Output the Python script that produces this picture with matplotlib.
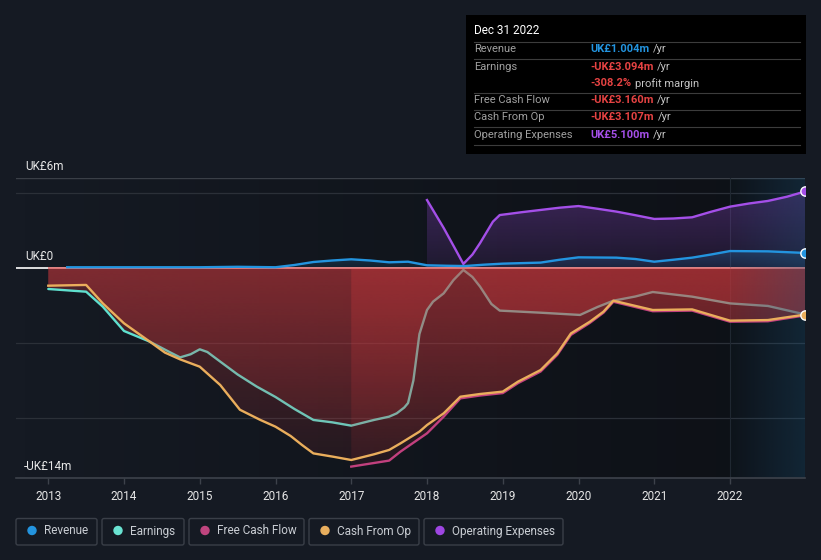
import numpy as np
import matplotlib
matplotlib.use("Agg")
import matplotlib.pyplot as plt
from matplotlib.colors import to_rgb
from matplotlib.patches import FancyBboxPatch, Rectangle, Circle

plt.rcParams['font.family'] = ['Roboto', 'DejaVu Sans']

# ---- data (UK£m, trailing twelve months) ----
rev_x = [2013.25, 2013.5, 2014, 2014.5, 2015, 2015.5, 2016, 2016.25, 2016.5, 2016.75, 2017,
         2017.25, 2017.5, 2017.75, 2018, 2018.25, 2018.5, 2018.75, 2019, 2019.5, 2019.75, 2020,
         2020.5, 2020.75, 2021, 2021.25, 2021.5, 2021.75, 2022, 2022.5, 2022.99]
rev_y = [0.05, 0.05, 0.05, 0.05, 0.05, 0.08, 0.05, 0.2, 0.4, 0.5, 0.58,
         0.5, 0.38, 0.42, 0.18, 0.15, 0.13, 0.22, 0.29, 0.36, 0.55, 0.71,
         0.69, 0.6, 0.42, 0.55, 0.69, 0.9, 1.13, 1.11, 1.004]

opex_x = [2018, 2018.22, 2018.38, 2018.48, 2018.6, 2018.7, 2018.87, 2018.96, 2019.1, 2019.25,
          2019.5, 2019.75, 2020, 2020.25, 2020.5, 2020.75, 2021, 2021.25, 2021.5, 2021.75,
          2022, 2022.25, 2022.5, 2022.75, 2022.99]
opex_y = [4.53, 2.67, 1.2, 0.27, 0.9, 1.66, 3.09, 3.53, 3.62, 3.72,
          3.87, 4.02, 4.13, 3.95, 3.76, 3.52, 3.27, 3.3, 3.38, 3.75,
          4.09, 4.3, 4.47, 4.75, 5.1]

earn_x = [2013, 2013.5, 2013.72, 2014, 2014.34, 2014.6, 2014.74, 2014.88, 2015, 2015.1, 2015.27,
          2015.5, 2015.75, 2016, 2016.25, 2016.5, 2016.75, 2017, 2017.3, 2017.5, 2017.6,
          2017.7, 2017.75, 2017.82, 2017.9, 2018, 2018.08, 2018.22, 2018.35, 2018.48, 2018.6,
          2018.7, 2018.85, 2018.96, 2019.5, 2020.02, 2020.25, 2020.46, 2020.75, 2020.98,
          2021.5, 2022, 2022.5, 2022.99]
earn_y = [-1.4, -1.58, -2.58, -4.2, -4.91, -5.6, -5.96, -5.75, -5.42, -5.6, -6.24,
          -7.1, -7.9, -8.6, -9.4, -10.13, -10.29, -10.51, -10.13, -9.91, -9.69,
          -9.3, -9.0, -7.5, -4.4, -2.8, -2.24, -1.69, -0.8, -0.13, -0.6,
          -1.24, -2.4, -2.84, -2.98, -3.13, -2.6, -2.18, -1.9, -1.6,
          -1.91, -2.36, -2.53, -3.094]

cfo_x = [2013, 2013.5, 2013.72, 2014, 2014.34, 2014.54, 2014.74, 2015, 2015.27, 2015.53,
         2015.8, 2016, 2016.2, 2016.35, 2016.5, 2016.76, 2017, 2017.3, 2017.5, 2017.65,
         2017.9, 2018, 2018.22, 2018.44, 2018.7, 2019, 2019.2, 2019.5, 2019.72, 2019.9,
         2020.15, 2020.33, 2020.46, 2020.98, 2021.5, 2022, 2022.5, 2022.99]
cfo_y = [-1.18, -1.13, -2.36, -3.69, -4.91, -5.64, -6.09, -6.58, -7.8, -9.45,
         -10.13, -10.58, -11.2, -11.8, -12.36, -12.58, -12.8, -12.42, -12.13, -11.69,
         -10.91, -10.47, -9.69, -8.58, -8.4, -8.24, -7.58, -6.8, -5.69, -4.36,
         -3.58, -2.91, -2.18, -2.8, -2.76, -3.51, -3.47, -3.107]

fcf_x = [2017, 2017.5, 2017.65, 2018, 2018.22, 2018.44, 2018.7, 2019, 2019.2, 2019.5, 2019.72,
         2019.9, 2020.15, 2020.33, 2020.46, 2020.98, 2021.5, 2022, 2022.5, 2022.99]
fcf_y = [-13.24, -12.84, -12.24, -11.02, -9.91, -8.69, -8.5, -8.34, -7.68, -6.9, -5.79,
         -4.46, -3.66, -2.98, -2.25, -2.88, -2.84, -3.58, -3.55, -3.16]

year_ticks = list(range(2013, 2023))

C_REV = '#2394df'
C_EARN = '#5fe0cf'
C_FCF = '#c2407e'
C_CFO = '#eaae5c'
C_OPEX = '#a44fe8'
C_RED = '#c8383c'
BG = '#151a23'

XMIN, XMAX = 2012.574, 2022.99
YMIN, YMAX = -14, 6


def grad_fill(ax, x, y, color, a_top, a_bot, ylo, yhi, z):
    x = np.asarray(x)
    poly = ax.fill_between(x, 0, y, facecolor='none', edgecolor='none')
    path = poly.get_paths()[0]
    img = np.zeros((256, 1, 4))
    img[:, :, :3] = to_rgb(color)
    img[:, 0, 3] = np.linspace(a_top, a_bot, 256)
    im = ax.imshow(img, extent=[x.min(), x.max(), ylo, yhi], aspect='auto',
                   origin='upper', zorder=z, interpolation='bilinear')
    im.set_clip_path(path, transform=ax.transData)


fig = plt.figure(figsize=(8.21, 5.6), dpi=100, facecolor=BG)
ax = fig.add_axes([16 / 821, 1 - 478 / 560, (805 - 16) / 821, 300 / 560])
ax.set_facecolor(BG)

# background darkening towards the right
dark = np.zeros((1, 256, 4))
dark[0, :, 3] = np.linspace(0.0, 0.38, 256)
ax.imshow(dark, extent=[XMIN, XMAX, YMIN, YMAX], aspect='auto', zorder=0.2)

# grid
for g in [5, -5, -10]:
    ax.axhline(g, color='#2b3038', lw=0.9, zorder=0.5)
ax.axhline(6, color='#3a3f47', lw=1.0, zorder=0.5)
ax.axhline(0, color='white', lw=1.2, zorder=0.6)
ax.axvline(2022, color='#20262e', lw=0.8, zorder=0.6)

# fills
grad_fill(ax, earn_x, earn_y, C_RED, 0.36, 0.08, -14, 0, 1.5)
ax.plot(earn_x, earn_y, color=C_EARN, lw=1.7, zorder=2, solid_capstyle='round')
grad_fill(ax, cfo_x, cfo_y, C_RED, 0.36, 0.08, -14, 0, 3)
grad_fill(ax, fcf_x, fcf_y, C_RED, 0.36, 0.08, -14, 0, 3)
grad_fill(ax, opex_x, opex_y, C_OPEX, 0.32, 0.1, 0, 5.5, 3)
grad_fill(ax, rev_x, rev_y, C_REV, 0.25, 0.1, 0, 1.2, 3.1)
ax.hlines(0, 2013, XMAX, color='#e07474', lw=1.2, zorder=3.2)

# highlighted last-year band
band = np.zeros((1, 256, 4))
band[0, :, :3] = (30 / 255, 90 / 255, 130 / 255)
band[0, :, 3] = np.linspace(0.04, 0.3, 256)
ax.imshow(band, extent=[2022, XMAX, YMIN, YMAX], aspect='auto', zorder=3.5)

# lines
ax.plot(fcf_x, fcf_y, color=C_FCF, lw=1.7, zorder=4)
ax.plot(cfo_x, cfo_y, color=C_CFO, lw=1.7, zorder=4.2)
ax.plot(rev_x, rev_y, color=C_REV, lw=1.7, zorder=4.3)
ax.plot(opex_x, opex_y, color=C_OPEX, lw=1.7, zorder=4.3)
for xs, ys, c in [(opex_x, opex_y, C_OPEX), (rev_x, rev_y, C_REV), (cfo_x, cfo_y, C_CFO)]:
    ax.scatter([xs[-1]], [ys[-1]], s=45, color=c, edgecolor='white', lw=1.0, zorder=5)

ax.set_xlim(XMIN, XMAX)
ax.set_ylim(YMIN, YMAX)
ax.set_xticks(year_ticks)
ax.set_xticklabels([str(y) for y in year_ticks])
ax.set_yticks([])
ax.tick_params(axis='x', colors='#3d424b', length=4, width=1, labelcolor='#e6e6e6',
               labelsize=8.5, pad=5)
for s in ['top', 'right', 'left']:
    ax.spines[s].set_visible(False)
ax.spines['bottom'].set_color('#3d424b')
ax.spines['bottom'].set_linewidth(1.2)
ax.spines['bottom'].set_zorder(6)

# ---- overlay in pixel coordinates ----
ui = fig.add_axes([0, 0, 1, 1], zorder=10)
ui.set_xlim(0, 821)
ui.set_ylim(560, 0)
ui.axis('off')
ui.patch.set_alpha(0)

ui.text(25, 166, 'UK£6m', color='#e6e6e6', fontsize=8.5, va='center')
ui.text(25, 256, 'UK£0', color='#e6e6e6', fontsize=8.5, va='center')
ui.text(24, 466, '-UK£14m', color='#e6e6e6', fontsize=8.5, va='center')

# tooltip
ui.add_patch(Rectangle((466, 15), 340, 139, facecolor='black', edgecolor='none'))
ui.text(474, 31, 'Dec 31 2022', color='white', fontsize=8.5, va='center')
for yy in [41.5, 58.5, 92.5, 109.5, 126.5, 145]:
    ui.plot([474, 800], [yy, yy], color='#3c3c3c', lw=0.8)

rows = [
    (49, 'Revenue', 'UK£1.004m', C_REV, '/yr'),
    (66.5, 'Earnings', '-UK£3.094m', '#e64343', '/yr'),
    (83.5, '', '-308.2%', '#e64343', 'profit margin'),
    (100, 'Free Cash Flow', '-UK£3.160m', '#e64343', '/yr'),
    (117.5, 'Cash From Op', '-UK£3.107m', '#e64343', '/yr'),
    (135, 'Operating Expenses', 'UK£5.100m', '#a44fe8', '/yr'),
]
fig.canvas.draw()
renderer = fig.canvas.get_renderer()
for yy, lab, val, col, suf in rows:
    if lab:
        ui.text(474, yy, lab, color='#a0a0a0', fontsize=8, va='center')
    t = ui.text(590, yy, val, color=col, fontsize=8, va='center', fontweight='bold')
    bb = t.get_window_extent(renderer=renderer)
    ui.text(bb.x1 + 4, yy, suf, color='#c4c4c4', fontsize=8, va='center')

# legend
legend = [('Revenue', '#2394df', 16, 97),
          ('Earnings', '#6ae3d2', 102, 184),
          ('Free Cash Flow', '#c0457f', 189, 304),
          ('Cash From Op', '#e8ae5e', 309, 419),
          ('Operating Expenses', '#9e46e3', 424, 563)]
for name, col, x0, x1 in legend:
    ui.add_patch(FancyBboxPatch((x0, 518.5), x1 - x0, 26.5,
                                boxstyle='round,pad=0,rounding_size=2',
                                facecolor=BG, edgecolor='#3a3f48', lw=1.0))
    ui.add_patch(Circle((x0 + 16, 530.5), 4, color=col))
    ui.text(x0 + 28, 531, name, color='#c9cdd3', fontsize=8.5, va='center')

fig.savefig('out.png', dpi=100, facecolor=BG)
